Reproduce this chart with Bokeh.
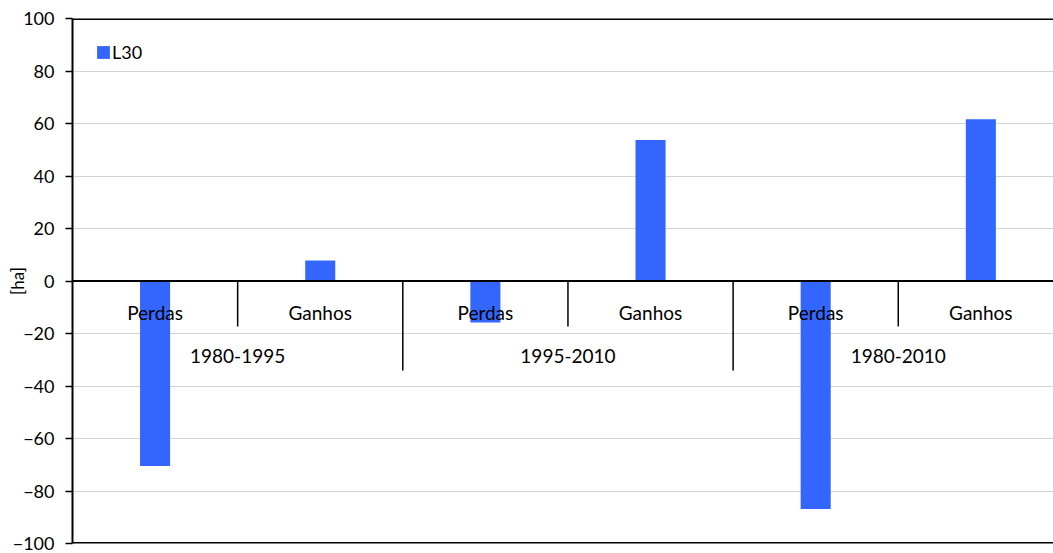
from bokeh.plotting import figure
from bokeh.models import Range1d, Span, FixedTicker, ColumnDataSource
from bokeh.core.properties import value
from bokeh.embed import file_html
from bokeh.resources import INLINE

# Data
categories = ["Perdas", "Ganhos", "Perdas", "Ganhos", "Perdas", "Ganhos"]
groups = ["1980-1995", "1995-2010", "1980-2010"]
series_name = "L30"
values = [-70.5, 7.8, -15.8, 53.7, -86.9, 61.6]
y_ticks = [-100, -80, -60, -40, -20, 0, 20, 40, 60, 80, 100]

FONT = "Lato"
BLUE = "#3366FF"

xs = [i + 0.5 for i in range(len(categories))]

p = figure(width=1053, height=553, output_backend="svg", toolbar_location=None,
           x_range=Range1d(0, 5.94), y_range=Range1d(-100, 100),
           min_border_left=72, min_border_right=0, min_border_top=18, min_border_bottom=10,
           x_axis_location=None)
p.background_fill_color = "white"
p.border_fill_color = "white"
p.outline_line_color = None

# y axis
p.yaxis.ticker = FixedTicker(ticks=y_ticks)
p.yaxis.axis_line_color = "black"
p.yaxis.axis_line_width = 2
p.yaxis.major_tick_line_color = "black"
p.yaxis.major_tick_line_width = 1.5
p.yaxis.major_tick_out = 7
p.yaxis.major_tick_in = 0
p.yaxis.minor_tick_line_color = None
p.yaxis.major_label_text_font = FONT
p.yaxis.major_label_text_font_size = "18px"
p.yaxis.major_label_text_color = "black"
p.yaxis.major_label_standoff = 11
p.yaxis.axis_label = "[ha]"
p.yaxis.axis_label_text_font = FONT
p.yaxis.axis_label_text_font_size = "17px"
p.yaxis.axis_label_text_font_style = "normal"
p.yaxis.axis_label_text_color = "black"
p.yaxis.axis_label_standoff = -18

p.xgrid.visible = False
p.ygrid.ticker = FixedTicker(ticks=y_ticks)
p.ygrid.grid_line_color = "#d4d4d4"
p.ygrid.grid_line_width = 1

src = ColumnDataSource(dict(x=xs, top=values))
p.vbar(x="x", top="top", bottom=0, width=0.182, source=src, fill_color=BLUE,
       line_color=None, legend_label=series_name)

# zero axis line and frame top/bottom
p.add_layout(Span(location=0, dimension="width", line_color="black", line_width=2))
p.add_layout(Span(location=100, dimension="width", line_color="black", line_width=3))
p.add_layout(Span(location=-100, dimension="width", line_color="black", line_width=3))

# category separators
inner_x = [1, 3, 5]
outer_x = [2, 4]
p.segment(x0=inner_x, y0=[0] * 3, x1=inner_x, y1=[-17.3] * 3, line_color="black", line_width=1.5)
p.segment(x0=outer_x, y0=[0] * 2, x1=outer_x, y1=[-34.1] * 2, line_color="black", line_width=1.5)

# category labels
p.text(x=xs, y=[-12] * 6, text=categories, text_font=value(FONT), text_font_size="19px",
       text_align="center", text_baseline="middle", text_color="black")
p.text(x=[1, 3, 5], y=[-28.4] * 3, text=groups, text_font=value(FONT), text_font_size="19px",
       text_align="center", text_baseline="middle", text_color="black")

# legend
lg = p.legend[0]
lg.location = "top_left"
lg.margin = 23
lg.padding = 13
lg.glyph_width = 16
lg.glyph_height = 16
lg.label_height = 16
lg.label_standoff = 1
lg.label_text_font = FONT
lg.label_text_font_size = "18px"
lg.label_text_color = "black"
lg.border_line_color = None
lg.background_fill_color = "white"
lg.background_fill_alpha = 1

open("out.html", "w").write(file_html(p, INLINE))
